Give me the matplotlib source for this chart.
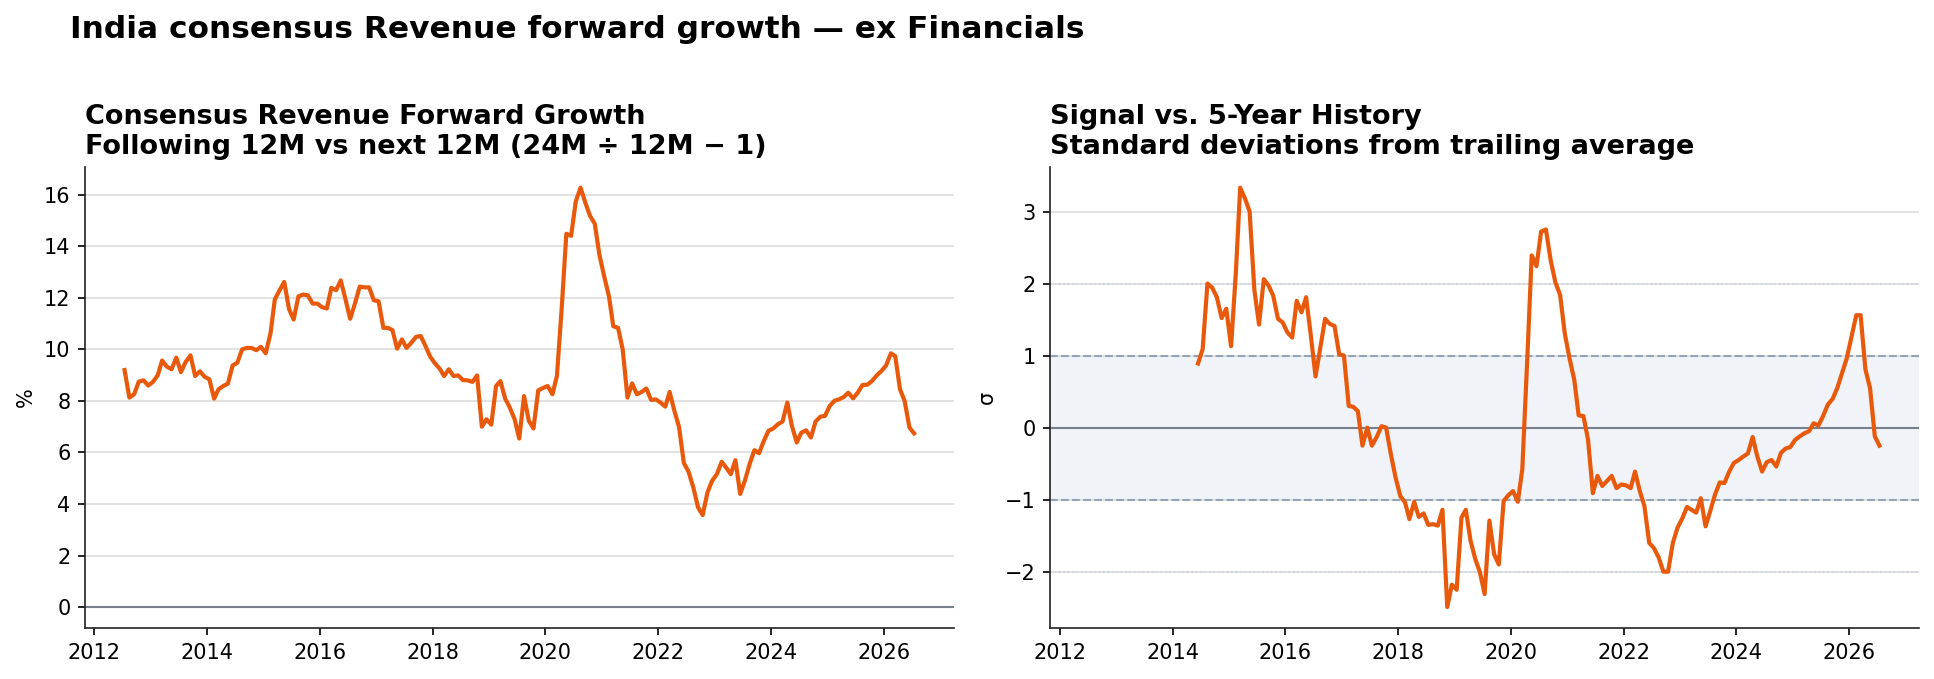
import matplotlib
matplotlib.use("Agg")
import matplotlib.pyplot as plt
import matplotlib.dates as mdates
import pandas as pd

# Monthly dates, Jul 2012 - Jul 2026
dates = pd.date_range("2012-07-01", periods=169, freq="MS") + pd.Timedelta(days=14)

# Consensus revenue forward growth (%)
growth = [
    9.2, 8.13, 8.26, 8.75, 8.8, 8.6, 8.74, 9.0, 9.57, 9.33,
    9.23, 9.68, 9.12, 9.52, 9.77, 8.97, 9.15, 8.94, 8.84, 8.09,
    8.45, 8.58, 8.67, 9.38, 9.48, 10.0, 10.06, 10.06, 9.97, 10.1,
    9.85, 10.62, 11.94, 12.3, 12.62, 11.57, 11.16, 12.06, 12.13, 12.1,
    11.78, 11.78, 11.64, 11.59, 12.39, 12.3, 12.68, 11.94, 11.19, 11.78,
    12.44, 12.41, 12.41, 11.91, 11.87, 10.84, 10.84, 10.75, 10.03, 10.39,
    10.06, 10.26, 10.49, 10.52, 10.13, 9.72, 9.46, 9.25, 8.97, 9.23,
    8.97, 8.99, 8.81, 8.8, 8.74, 8.99, 7.0, 7.29, 7.08, 8.58,
    8.77, 8.09, 7.74, 7.29, 6.54, 8.19, 7.23, 6.93, 8.41, 8.5,
    8.58, 8.26, 8.97, 11.6, 14.49, 14.41, 15.74, 16.28, 15.7, 15.19,
    14.88, 13.68, 12.84, 12.06, 10.9, 10.84, 10.0, 8.13, 8.68, 8.26,
    8.35, 8.48, 8.04, 8.06, 7.94, 7.78, 8.35, 7.61, 6.99, 5.59,
    5.26, 4.65, 3.87, 3.57, 4.45, 4.9, 5.16, 5.64, 5.42, 5.16,
    5.7, 4.39, 4.9, 5.55, 6.09, 5.97, 6.45, 6.84, 6.93, 7.1,
    7.2, 7.94, 7.03, 6.39, 6.77, 6.86, 6.58, 7.2, 7.39, 7.42,
    7.81, 8.01, 8.06, 8.15, 8.32, 8.1, 8.32, 8.62, 8.63, 8.77,
    8.99, 9.16, 9.38, 9.85, 9.74, 8.45, 8.0, 6.97, 6.74,
]

# Z-score vs 5-year trailing history (starts Jun 2014)
zscore = [
    0.90, 1.10, 2.01, 1.95, 1.82, 1.53, 1.66, 1.14, 2.16, 3.34,
    3.19, 3.01, 1.92, 1.44, 2.07, 1.98, 1.84, 1.52, 1.47, 1.33,
    1.26, 1.77, 1.61, 1.82, 1.28, 0.72, 1.12, 1.52, 1.45, 1.42,
    1.03, 1.01, 0.31, 0.30, 0.24, -0.24, 0.01, -0.24, -0.12, 0.03,
    0.01, -0.36, -0.68, -0.94, -1.03, -1.26, -1.02, -1.23, -1.18, -1.34,
    -1.33, -1.35, -1.13, -2.48, -2.17, -2.24, -1.24, -1.13, -1.56, -1.81,
    -2.0, -2.30, -1.28, -1.75, -1.89, -1.01, -0.93, -0.87, -1.02, -0.57,
    0.9, 2.40, 2.25, 2.73, 2.76, 2.33, 2.03, 1.85, 1.32, 0.97,
    0.67, 0.18, 0.17, -0.16, -0.90, -0.66, -0.80, -0.73, -0.66, -0.83,
    -0.78, -0.79, -0.83, -0.60, -0.87, -1.08, -1.59, -1.66, -1.79, -1.99,
    -1.99, -1.59, -1.38, -1.25, -1.09, -1.13, -1.17, -0.97, -1.36, -1.15,
    -0.92, -0.75, -0.76, -0.60, -0.48, -0.44, -0.39, -0.35, -0.12, -0.39,
    -0.60, -0.47, -0.44, -0.53, -0.34, -0.28, -0.26, -0.16, -0.11, -0.07,
    -0.04, 0.07, 0.04, 0.17, 0.33, 0.41, 0.56, 0.77, 0.97, 1.27,
    1.57, 1.57, 0.82, 0.56, -0.11, -0.24,
]
z_dates = dates[len(dates) - len(zscore):]

orange = "#e8590c"

fig, (ax1, ax2) = plt.subplots(1, 2, sharex=True, figsize=(1934 / 150, 679 / 150), dpi=150)
fig.subplots_adjust(left=0.044, right=0.9922, bottom=0.0751, top=0.7545, wspace=0.1116)

fig.suptitle("India consensus Revenue forward growth \u2014 ex Financials",
             x=0.036, y=0.978, ha="left", va="top", fontsize=15, fontweight="bold")

# Left panel
ax1.grid(axis="y", color="#dddddd", linewidth=0.8)
ax1.axhline(0, color="#7a7f8c", linewidth=1.0)
ax1.plot(dates, growth, color=orange, linewidth=2)
ax1.set_ylabel("%")
ax1.set_title("Consensus Revenue Forward Growth\nFollowing 12M vs next 12M (24M \u00f7 12M \u2212 1)",
              loc="left", fontsize=13, fontweight="bold")

# Right panel
ax2.grid(axis="y", color="#dddddd", linewidth=0.8)
ax2.axhspan(-1, 1, color="#f0f3f8", zorder=0)
ax2.axhline(1, color="#94a3b8", linewidth=1.0, linestyle="--")
ax2.axhline(-1, color="#94a3b8", linewidth=1.0, linestyle="--")
ax2.axhline(2, color="#ccd3e0", linewidth=0.8, linestyle=":")
ax2.axhline(-2, color="#ccd3e0", linewidth=0.8, linestyle=":")
ax2.axhline(0, color="#7a7f8c", linewidth=1.0)
ax2.plot(z_dates, zscore, color=orange, linewidth=2)
ax2.set_ylabel("\u03c3")
ax2.set_title("Signal vs. 5-Year History\nStandard deviations from trailing average",
              loc="left", fontsize=13, fontweight="bold")

for ax in (ax1, ax2):
    ax.set_axisbelow(True)
    ax.spines["top"].set_visible(False)
    ax.spines["right"].set_visible(False)
    ax.spines["left"].set_color("#222222")
    ax.spines["bottom"].set_color("#222222")
    ax.xaxis.set_major_locator(mdates.YearLocator(2))
    ax.xaxis.set_major_formatter(mdates.DateFormatter("%Y"))

fig.savefig("out.png", dpi=150)
